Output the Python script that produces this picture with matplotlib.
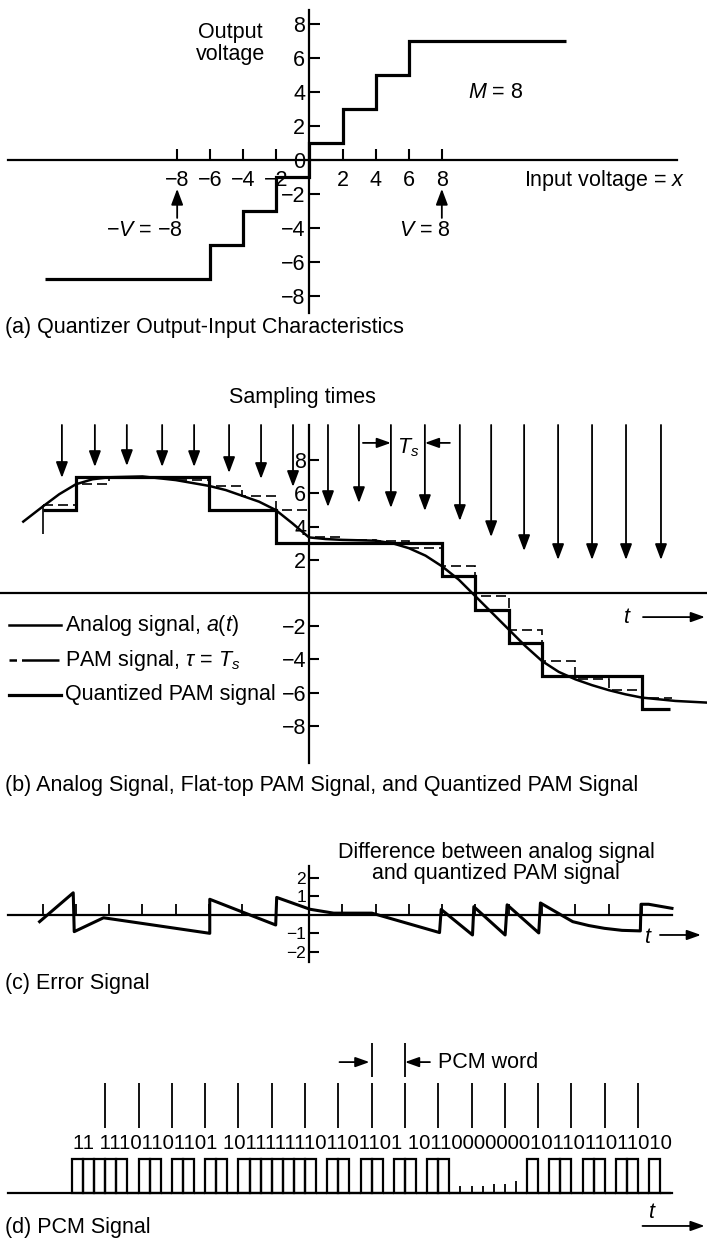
#!/usr/bin/env python
import matplotlib
matplotlib.use('Agg')
import matplotlib.pyplot as plt

plt.rcParams['font.family'] = ['Liberation Sans', 'DejaVu Sans']
plt.rcParams['mathtext.fontset'] = 'custom'
plt.rcParams['mathtext.rm'] = 'Liberation Sans'
plt.rcParams['mathtext.it'] = 'Liberation Sans:italic'
plt.rcParams['font.size'] = 15.5

# (a) quantizer characteristic
quant_edges = [-16, -6, -4, -2, 0, 2, 4, 6, 15.5]
quant_out = [-7, -5, -3, -1, 1, 3, 5, 7]
a_xticks = [-8, -6, -4, -2, 2, 4, 6, 8]
a_yticks = [8, 6, 4, 2, 0, -2, -4, -6, -8]

# (b) signals, time in units of Ts
analog_t = [-8.58, -8.0, -7.5, -7.0, -6.5, -6.0, -5.0, -4.0, -3.0, -2.5, -2.0, -1.5,
            -1.0, -0.5, 0.0, 0.5, 1.0, 2.0, 2.5, 3.0, 3.5, 4.0, 4.5, 5.0, 5.5, 6.0,
            6.5, 7.0, 7.5, 8.0, 8.5, 9.0, 9.5, 10.0, 11.0, 11.95]
analog_v = [4.3, 5.2, 5.95, 6.55, 6.85, 6.97, 7.02, 6.8, 6.45, 6.2, 5.85, 5.5,
            5.0, 4.2, 3.35, 3.25, 3.2, 3.15, 3.0, 2.7, 2.25, 1.6, 0.8, -0.2, -1.2, -2.2,
            -3.2, -4.1, -4.75, -5.2, -5.55, -5.85, -6.1, -6.3, -6.5, -6.6]
pam_edges = [-8, -7, -6, -5, -4, -3, -2, -1, 0, 1, 2, 3, 4, 5, 6, 7, 8, 9, 10, 10.9]
pam_v = [5.3, 6.55, 6.97, 7.0, 6.8, 6.45, 5.85, 5.0, 3.35, 3.2, 3.15, 2.7, 1.6,
         -0.2, -2.2, -4.1, -5.2, -5.85, -6.3]
pam_start = 3.55
qpam_edges = [-8, -7, -3, -1, 4, 5, 6, 7, 10, 10.85]
qpam_v = [5, 7, 5, 3, 1, -1, -3, -5, -7]
sample_t = [-7.42, -6.43, -5.47, -4.41, -3.45, -2.40, -1.44, -0.48, 0.57, 1.50,
            2.46, 3.48, 4.53, 5.47, 6.46, 7.48, 8.50, 9.52, 10.57]
sample_tip = [6.93, 7.59, 7.65, 7.59, 7.59, 7.23, 6.87, 6.39, 5.18, 5.42,
              5.12, 4.94, 4.34, 3.37, 2.53, 1.99, 1.99, 1.99, 1.99]
sample_top = 10.12
b_yticks = [8, 6, 4, 2, -2, -4, -6, -8]

# (c) error signal
err_t = [-8.09, -7.08, -7.05, -6.17, -2.98, -2.98, -1.0, -0.97, 0.03, 0.74, 1.89,
         3.92, 3.97, 4.91, 4.95, 5.89, 5.95, 6.9, 6.95, 7.92, 8.4, 8.87, 9.4, 9.95,
         9.97, 10.2, 10.9]
err_v = [-0.36, 1.2, -0.9, -0.15, -0.99, 0.85, -0.54, 0.95, 0.31, 0.1, 0.1,
         -0.95, 0.3, -1.08, 0.45, -1.08, 0.55, -0.97, 0.65, -0.36, -0.57, -0.72, -0.83, -0.86,
         0.58, 0.58, 0.36]
c_xticks = [-8, -7, -6, -5, -4, -3, -2, -1, 1, 2, 3, 4, 5, 6, 7, 8, 9, 10]
c_yticks = [2, 1, -1, -2]

# (d) PCM bits
bits = [int(c) for c in "111110110110110111111101101101101100000001011011011010"]
bit_text = "11 11101101101 10111111101101101 101100000001011011011010"
word_marks = [3, 6, 9, 12, 15, 18, 21, 24, 27, 30, 33, 36, 39, 42, 45, 48, 51]
zero_marks = [35, 36, 37, 38, 39, 40]
zero_mark_h = [0.2, 0.2, 0.2, 0.25, 0.25, 0.35]

W, H = 707, 1238
fig = plt.figure(figsize=(W / 100, H / 100), dpi=100)


def panel(top, bottom, xlim, ylim):
    ax = fig.add_axes([0, 1 - bottom / H, 1, (bottom - top) / H])
    ax.set_xlim(*xlim)
    ax.set_ylim(*ylim)
    ax.patch.set_alpha(0)
    for s in ['top', 'right']:
        ax.spines[s].set_visible(False)
    ax.spines['left'].set_position(('data', 0))
    ax.spines['bottom'].set_position(('data', 0))
    for s in ['left', 'bottom']:
        ax.spines[s].set_linewidth(1.6)
    return ax


arr = dict(arrowstyle='-|>,head_length=0.8,head_width=0.3', color='black', lw=1.3,
           mutation_scale=12, shrinkA=0, shrinkB=0)
small_arr = dict(arrowstyle='-|>,head_length=0.7,head_width=0.25', color='black', lw=1.3,
                 mutation_scale=12, shrinkA=0, shrinkB=0)

# ---------- (a)
ax = panel(0, 315, (-18.71, 24.03), (-9.12, 9.41))
ax.spines['left'].set_bounds(-9.0, 8.8)
ax.spines['bottom'].set_bounds(-18.2, 22.2)
ax.set_xticks(a_xticks)
ax.set_yticks(a_yticks)
ax.tick_params(axis='x', direction='in', length=8, width=1.5, pad=7)
ax.tick_params(axis='y', direction='in', length=8, width=1.5, pad=3)
ax.stairs(quant_out, quant_edges, baseline=None, color='black', lw=2.3)
ax.text(-4.8, 6.85, "Output\nvoltage", ha='center', va='center', linespacing=1.05)
ax.text(11.27, 3.94, "$M$ = 8", ha='center', va='center')
ax.text(22.7, -1.18, "Input voltage = $x$", ha='right', va='center')
ax.text(-7.67, -4.12, "\u2212$V$ = \u22128", ha='right', va='center')
ax.text(6.98, -4.12, "$V$ = 8", ha='center', va='center')
for xv in [-8, 8]:
    ax.annotate('', xy=(xv, -1.7), xytext=(xv, -3.41), arrowprops=arr)

# ---------- (b)
ax = panel(370, 775, (-9.279, 11.952), (-10.96, 13.43))
ax.spines['left'].set_bounds(-10.24, 10.12)
ax.set_xticks([])
ax.set_yticks(b_yticks)
ax.tick_params(axis='y', direction='in', length=7, width=1.5, pad=2)
ax.plot(analog_t, analog_v, color='black', lw=1.8)
ax.stairs(pam_v, pam_edges, baseline=None, color='black', lw=1.2, ls=(0, (6, 3)))
ax.vlines(pam_edges[0], pam_start, pam_v[0], color='black', lw=1.2)
ax.stairs(qpam_v, qpam_edges, baseline=None, color='black', lw=2.3)
for t, tip in zip(sample_t, sample_tip):
    ax.annotate('', xy=(t, tip), xytext=(t, sample_top), arrowprops=arr)
ax.text(-0.21, 11.78, "Sampling times", ha='center', va='center')
ax.annotate('', xy=(2.46, 9.04), xytext=(1.62, 9.04), arrowprops=small_arr)
ax.annotate('', xy=(3.48, 9.04), xytext=(4.23, 9.04), arrowprops=small_arr)
ax.text(2.97, 8.73, "$T_s$", ha='center', va='center')
ax.text(9.55, -1.45, "$t$", ha='center', va='center')
ax.annotate('', xy=(11.89, -1.45), xytext=(10.03, -1.45), arrowprops=small_arr)
leg_y = [-1.93, -4.04, -6.14]
leg_txt = ["Analog signal, $a$($t$)", "PAM signal, $\\tau$ = $T_s$", "Quantized PAM signal"]
leg_style = [dict(lw=1.8, ls='-'), dict(lw=1.8, ls=(0, (3, 2, 12, 0))), dict(lw=2.3, ls='-')]
for y, txt, st in zip(leg_y, leg_txt, leg_style):
    ax.plot([-9.0, -7.45], [y, y], color='black', **st)
    ax.text(-7.33, y, txt, ha='left', va='center')

# ---------- (c)
ax = panel(820, 968, (-9.279, 11.952), (-2.865, 5.135))
ax.spines['left'].set_bounds(-2.54, 2.65)
ax.spines['bottom'].set_bounds(-9.04, 10.9)
ax.set_xticks(c_xticks)
ax.set_xticklabels([])
ax.set_yticks(c_yticks)
ax.tick_params(axis='x', direction='in', length=8, width=1.3)
ax.tick_params(axis='y', direction='in', length=7, width=1.5, pad=2, labelsize=12.5)
ax.plot(err_t, err_v, color='black', lw=2.2)
ax.text(5.62, 2.81, "Difference between analog signal\nand quantized PAM signal",
        ha='center', va='center', linespacing=1.05)
ax.text(10.2, -1.19, "$t$", ha='center', va='center')
ax.annotate('', xy=(11.77, -1.08), xytext=(10.54, -1.08), arrowprops=small_arr)

# ---------- (d)
ax = panel(1030, 1238, (-6.486, 57.21), (-1.324, 4.794))
ax.spines['left'].set_visible(False)
ax.spines['bottom'].set_bounds(-5.77, 54.05)
ax.set_xticks([])
ax.set_yticks([])
ax.bar(range(len(bits)), bits, width=1, align='edge', fill=False,
       edgecolor='black', linewidth=1.6)
ax.vlines(zero_marks, 0, zero_mark_h, color='black', lw=1.3)
ax.vlines(word_marks, 1.91, 3.24, color='black', lw=1.3)
ax.vlines([27, 30], 3.41, 4.41, color='black', lw=1.3)
ax.annotate('', xy=(26.8, 3.85), xytext=(24.1, 3.85), arrowprops=small_arr)
ax.annotate('', xy=(30.0, 3.85), xytext=(32.25, 3.85), arrowprops=small_arr)
ax.text(33.0, 3.85, "PCM word", ha='left', va='center')
ax.text(27.1, 1.47, bit_text, ha='center', va='center', fontsize=14.6)
ax.text(52.3, -0.56, "$t$", ha='center', va='center')
ax.annotate('', xy=(57.0, -0.97), xytext=(51.4, -0.97), arrowprops=small_arr)

# captions
captions = [(327, "(a) Quantizer Output-Input Characteristics"),
            (785, "(b) Analog Signal, Flat-top PAM Signal, and Quantized PAM Signal"),
            (983, "(c) Error Signal"),
            (1227, "(d) PCM Signal")]
for y, txt in captions:
    fig.text(5 / W, 1 - y / H, txt, ha='left', va='center')

fig.savefig("out.png", dpi=100)
